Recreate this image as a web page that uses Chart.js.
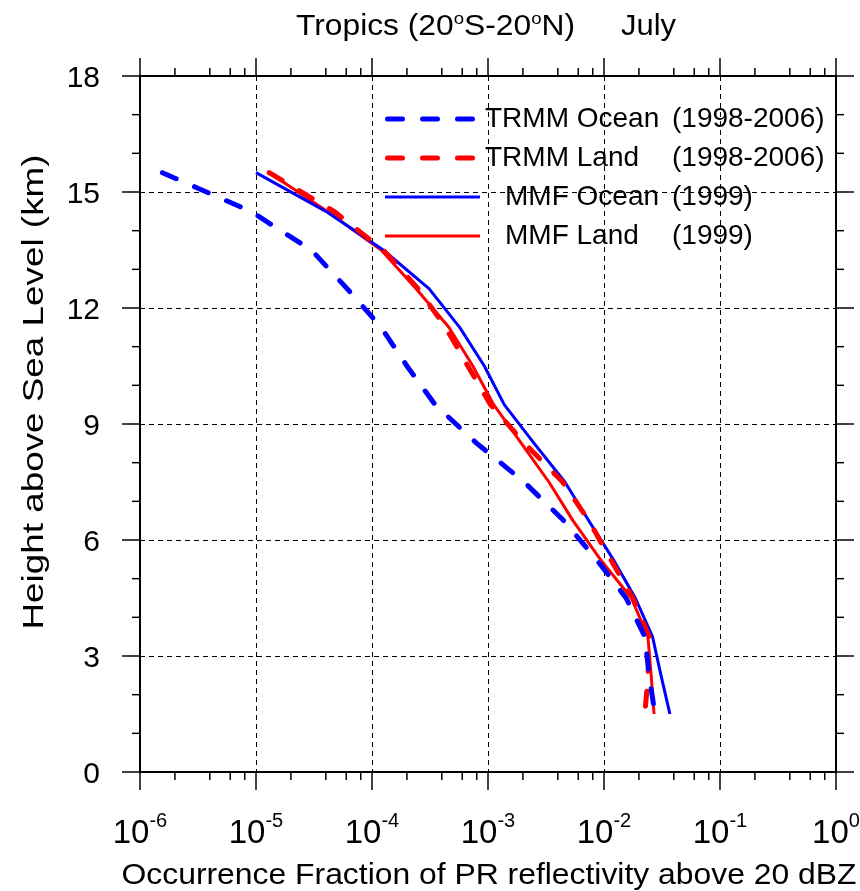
<!DOCTYPE html>
<html>
<head>
<meta charset="utf-8">
<script src="https://cdn.jsdelivr.net/npm/chart.js@4.4.0/dist/chart.umd.min.js"></script>
<style>
  html, body { margin: 0; padding: 0; background: #fff; }
  canvas { display: block; }
</style>
</head>
<body>
<canvas id="profile" width="860" height="891"></canvas>
<script>
// profile levels (km)
var heights = [15.5, 14.5, 13.5, 12.5, 11.5, 10.5, 9.5, 8.5, 7.5, 6.5, 5.5, 4.5, 3.5, 2.5, 1.5];

// occurrence fraction at each level
var trmmOcean = [1.56e-6, 9.0e-6, 3.0e-5, 6.1e-5, 1.2e-4, 2.0e-4, 3.5e-4, 8.0e-4, 2.05e-3, 4.5e-3, 8.6e-3, 1.55e-2, 2.25e-2, 2.45e-2, 2.75e-2];
var trmmLand  = [1.3e-5, 4.7e-5, 1.25e-4, 2.5e-4, 4.3e-4, 6.7e-4, 1.05e-3, 2.07e-3, 4.4e-3, 7.4e-3, 1.14e-2, 1.77e-2, 2.45e-2, 2.4e-2, 2.25e-2];
var mmfOcean  = [1.0e-5, 4.0e-5, 1.25e-4, 3.1e-4, 5.7e-4, 9.3e-4, 1.38e-3, 2.5e-3, 4.6e-3, 7.4e-3, 1.2e-2, 1.86e-2, 2.62e-2, 3.1e-2, 3.7e-2];
var mmfLand   = [1.3e-5, 4.1e-5, 1.2e-4, 2.4e-4, 4.6e-4, 7.4e-4, 1.12e-3, 1.94e-3, 3.35e-3, 5.4e-3, 9.3e-3, 1.72e-2, 2.39e-2, 2.55e-2, 2.7e-2];

var seriesNames   = ["TRMM Ocean", "TRMM Land", "MMF Ocean", "MMF Land"];
var seriesPeriods = ["(1998-2006)", "(1998-2006)", "(1999)", "(1999)"];

// axis ticks
var xExponents = [-6, -5, -4, -3, -2, -1, 0];
var xMinor = [2, 4, 6, 8];
var yTicks = [0, 3, 6, 9, 12, 15, 18];

var FONT = '"Liberation Sans", Arial, Helvetica, sans-serif';
var BLUE = "rgb(0,0,255)", RED = "rgb(255,0,0)";
var DASH = [15, 20];

function pts(vals) {
    return heights.map(function (h, i) { return { x: vals[i], y: h }; });
}

function makeSet(i, vals, color, dashed) {
    return {
        label: seriesNames[i],
        period: seriesPeriods[i],
        data: pts(vals),
        borderColor: color,
        borderWidth: dashed ? 5 : 3,
        borderDash: dashed ? DASH : [],
        borderCapStyle: dashed ? "round" : "butt",
        borderJoinStyle: "round",
        showLine: true,
        pointRadius: 0,
        tension: 0,
        fill: false
    };
}

// text drawn in pieces, optionally stretched to a width
function drawParts(ctx, parts, x, y, width, align) {
    var total = 0;
    parts.forEach(function (p) {
        ctx.font = p[1] + "px " + FONT;
        p.w = ctx.measureText(p[0]).width;
        total += p.w;
    });
    var sx = width ? width / total : 1;
    var start = x;
    if (align === "center") start = x - total * sx / 2;
    if (align === "right") start = x - total * sx;
    ctx.save();
    ctx.translate(start, y);
    ctx.scale(sx, 1);
    ctx.fillStyle = "#000";
    ctx.textAlign = "left";
    ctx.textBaseline = "alphabetic";
    var cx = 0;
    parts.forEach(function (p) {
        ctx.font = p[1] + "px " + FONT;
        ctx.fillText(p[0], cx, -p[2]);
        cx += p.w;
    });
    ctx.restore();
}

function seg(ctx, x1, y1, x2, y2) {
    ctx.beginPath();
    ctx.moveTo(x1, y1);
    ctx.lineTo(x2, y2);
    ctx.stroke();
}

var frame = {
    id: "frame",
    beforeDatasetsDraw: function (chart) {
        var ctx = chart.ctx, a = chart.chartArea;
        var xs = chart.scales.x, ys = chart.scales.y;
        ctx.save();
        ctx.strokeStyle = "#000";
        ctx.lineWidth = 1;
        ctx.setLineDash([5, 4]);
        xExponents.slice(1, -1).forEach(function (e) {
            var px = Math.round(xs.getPixelForValue(Math.pow(10, e))) + 0.5;
            seg(ctx, px, a.top, px, a.bottom);
        });
        yTicks.slice(1, -1).forEach(function (v) {
            var py = Math.round(ys.getPixelForValue(v)) + 0.5;
            seg(ctx, a.left, py, a.right, py);
        });
        ctx.restore();
    },
    afterDatasetsDraw: function (chart) {
        var ctx = chart.ctx, a = chart.chartArea;
        var xs = chart.scales.x, ys = chart.scales.y;
        ctx.save();
        ctx.strokeStyle = "#000";

        // box
        ctx.lineWidth = 2;
        ctx.strokeRect(a.left, a.top, a.right - a.left, a.bottom - a.top);

        // y ticks (every km, major every 3)
        ctx.lineWidth = 1.5;
        for (var v = 0; v <= 18; v++) {
            var py = ys.getPixelForValue(v);
            var len = v % 3 === 0 ? 18 : 8;
            seg(ctx, a.left - len, py, a.left, py);
            seg(ctx, a.right, py, a.right + len, py);
        }
        // x ticks
        xExponents.forEach(function (e, k) {
            var px = xs.getPixelForValue(Math.pow(10, e));
            seg(ctx, px, a.bottom, px, a.bottom + 18);
            seg(ctx, px, a.top, px, a.top - 18);
            if (k < xExponents.length - 1) {
                xMinor.forEach(function (m) {
                    var mx = xs.getPixelForValue(m * Math.pow(10, e));
                    seg(ctx, mx, a.bottom, mx, a.bottom + 8);
                    seg(ctx, mx, a.top, mx, a.top - 8);
                });
            }
        });

        // tick labels
        yTicks.forEach(function (v) {
            drawParts(ctx, [[String(v), 30, 0]], 100, ys.getPixelForValue(v) + 11, null, "right");
        });
        xExponents.forEach(function (e) {
            var px = xs.getPixelForValue(Math.pow(10, e));
            drawParts(ctx, [["10", 33, 0], [String(e), 20, 16]], px, 843, null, "center");
        });

        // axis titles
        drawParts(ctx, [["Occurrence Fraction of PR reflectivity above 20 dBZ", 30, 0]], 489, 884, 735, "center");
        ctx.save();
        ctx.translate(43, 392);
        ctx.rotate(-Math.PI / 2);
        drawParts(ctx, [["Height above Sea Level (km)", 30, 0]], 0, 0, 475, "center");
        ctx.restore();

        // title
        drawParts(ctx, [["Tropics (20", 29, 0], ["o", 17, 11], ["S-20", 29, 0], ["o", 17, 11], ["N)", 29, 0]], 296, 35, 279, "left");
        drawParts(ctx, [["July", 29, 0]], 621, 35, 55, "left");

        // legend
        var rowLine = [119, 158, 197, 236];
        var rowText = [127, 166, 205, 244];
        var nameX = [485, 485, 505, 505];
        chart.data.datasets.forEach(function (ds, i) {
            ctx.save();
            ctx.strokeStyle = ds.borderColor;
            ctx.lineWidth = ds.borderWidth;
            ctx.lineCap = ds.borderCapStyle;
            ctx.setLineDash(ds.borderDash);
            if (ds.borderDash.length) seg(ctx, 387.5, rowLine[i], 472.5, rowLine[i]);
            else seg(ctx, 385, rowLine[i], 480, rowLine[i]);
            ctx.restore();
            drawParts(ctx, [[ds.label, 28, 0]], nameX[i], rowText[i], null, "left");
            drawParts(ctx, [[ds.period, 28, 0]], 672, rowText[i], null, "left");
        });
        ctx.restore();
    }
};

new Chart(document.getElementById("profile"), {
    type: "scatter",
    data: {
        datasets: [
            makeSet(0, trmmOcean, BLUE, true),
            makeSet(1, trmmLand, RED, true),
            makeSet(2, mmfOcean, BLUE, false),
            makeSet(3, mmfLand, RED, false)
        ]
    },
    options: {
        responsive: false,
        animation: false,
        layout: { padding: { left: 140, right: 24, top: 76, bottom: 119 } },
        scales: {
            x: { type: "logarithmic", min: 1e-6, max: 1, display: false },
            y: { type: "linear", min: 0, max: 18, display: false }
        },
        plugins: {
            legend: { display: false },
            title: { display: false },
            tooltip: { enabled: false }
        }
    },
    plugins: [frame]
});
</script>
</body>
</html>
